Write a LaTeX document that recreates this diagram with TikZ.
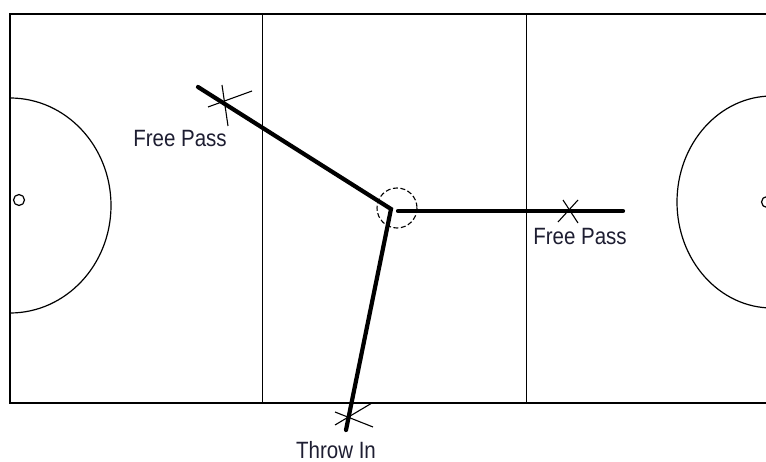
\documentclass[tikz,border=0pt]{standalone}
\usepackage{fontspec}
\setmainfont{Liberation Sans}
\definecolor{txt}{HTML}{1E1E32}
\newcommand{\tallfont}[1]{\scalebox{1}[1.15]{#1}}
\begin{document}
\begin{tikzpicture}[x=1pt,y=-1pt,
  field/.style={line width=1.6pt,black},
  arcline/.style={line width=1.2pt,black},
  play/.style={line width=4.2pt,black,line cap=round},
  xmark/.style={line width=1.1pt,black},
  lab/.style={text=txt,font=\fontsize{20.5}{24}\selectfont,inner sep=0pt}]
\useasboundingbox (0,0) rectangle (766,462);
\fill[white] (0,0) rectangle (766,462);
% field
\coordinate (tl) at (10,14);
\coordinate (bl) at (10,403);
\coordinate (tr) at (766,14);
\coordinate (br) at (766,403);
\draw[field] (tr) -- (tl) -- (bl) -- (br);
\coordinate (v1t) at (262.5,14); \coordinate (v1b) at (262.5,403);
\coordinate (v2t) at (526.5,14); \coordinate (v2b) at (526.5,403);
\draw[field] (v1t) -- (v1b);
\draw[field] (v2t) -- (v2b);
% circles
\begin{scope}
\clip (10,0) rectangle (766,462);
\draw[arcline] (10,205.5) ellipse [x radius=101, y radius=107.5];
\draw[arcline] (772,202) ellipse [x radius=95, y radius=106];
\end{scope}
\draw[arcline] (19,200) circle [radius=5.5];
\draw[arcline] (767,202) circle [radius=5.5];
% centre dashed circle
\coordinate (ctr) at (397,208);
\draw[line width=1.1pt,dash pattern=on 5pt off 2.5pt] (ctr) circle [radius=20];
% play lines
\coordinate (p1) at (198,87);
\coordinate (c1) at (391,209);
\coordinate (c2) at (398,211);
\coordinate (p2) at (623,211);
\coordinate (c3) at (390,214);
\coordinate (p3) at (346,430);
\draw[play] (p1) -- (c1) -- (c3) -- (p3);
\draw[play] (c2) -- (p2);
% crosses
\coordinate (x1a) at (208,107); \coordinate (x1b) at (252,91);
\coordinate (x1c) at (222,85);  \coordinate (x1d) at (228,126);
\draw[xmark] (x1a) -- (x1b); \draw[xmark] (x1c) -- (x1d);
\coordinate (x2a) at (563,200); \coordinate (x2b) at (578,223);
\coordinate (x2c) at (578,200); \coordinate (x2d) at (558,222);
\draw[xmark] (x2a) -- (x2b); \draw[xmark] (x2c) -- (x2d);
\coordinate (x3a) at (335,412); \coordinate (x3b) at (373,427);
\coordinate (x3c) at (335,425); \coordinate (x3d) at (372,403);
\draw[xmark] (x3a) -- (x3b); \draw[xmark] (x3c) -- (x3d);
% labels
\node[lab] (fp1) at (180,139) {\tallfont{Free Pass}};
\node[lab] (fp2) at (580,237) {\tallfont{Free Pass}};
\node[lab] (ti) at (336,450) {\tallfont{Throw In}};
\end{tikzpicture}
\end{document}
